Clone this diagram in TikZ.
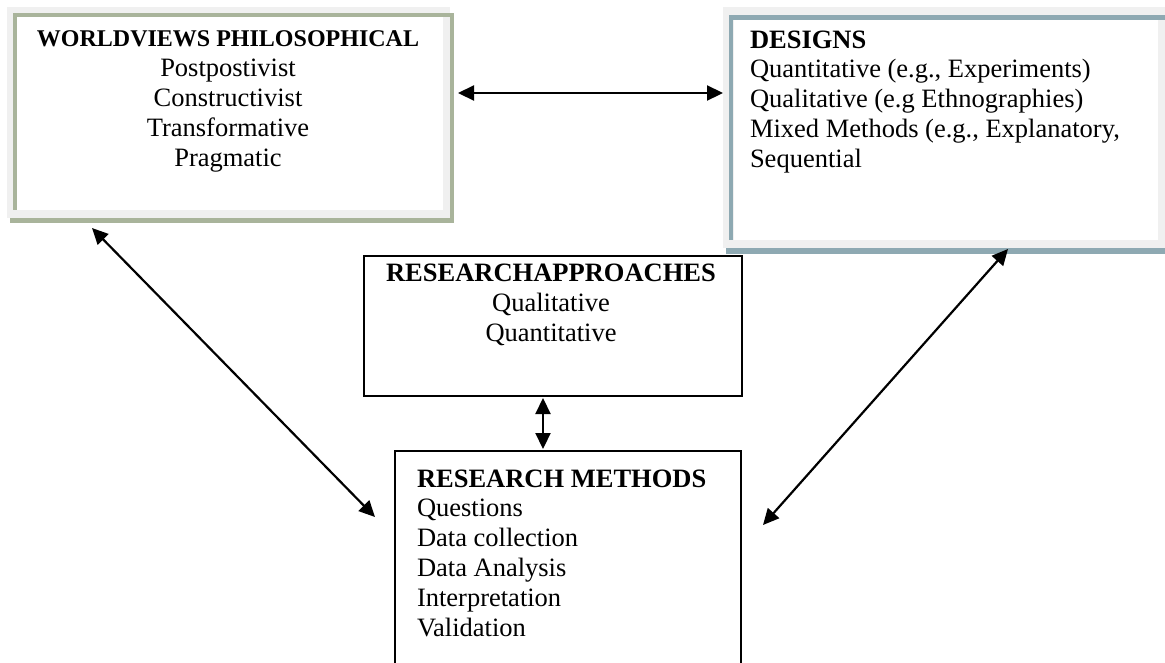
\documentclass[tikz,border=0pt]{standalone}
\usepackage{fontspec}
\setmainfont{Liberation Serif}
\usetikzlibrary{arrows.meta,calc}
\definecolor{framegrey}{HTML}{F0F0F0}
\definecolor{sagegreen}{HTML}{A9B49B}
\definecolor{steelgrey}{HTML}{8EA9B2}
\tikzset{
  boxarea/.style={inner sep=0pt, outer sep=0pt, anchor=north west},
  plainbox/.style={boxarea, draw=black, line width=2.2pt},
  txt/.style={inner sep=0pt, outer sep=0pt, font=\fontsize{26.5}{29.8}\selectfont},
  arr/.style={line width=2.2pt, {Triangle[length=16pt,width=15pt]}-{Triangle[length=16pt,width=15pt]}},
}
\begin{document}
\begin{tikzpicture}[x=1pt,y=-1pt]
\useasboundingbox (0,0) rectangle (1165,662);
\clip (0,0) rectangle (1165,662);
\fill[white] (0,0) rectangle (1165,662);

% ---- WORLDVIEWS frame (drawn shapes) ----
\fill[framegrey] (7,7) rectangle (450,218);
\fill[white] (17,17) rectangle (443,210);
\fill[sagegreen] (13,13) rectangle (450,17);
\fill[sagegreen] (13,13) rectangle (17,210);
\fill[sagegreen] (450,13) rectangle (454,223);
\fill[sagegreen] (10,218) rectangle (454,223);
\node[boxarea, minimum width=447pt, minimum height=216pt] (wv) at (7,7) {};

% ---- DESIGNS frame ----
\fill[framegrey] (723,7) rectangle (1165,248);
\fill[white] (734,20) rectangle (1158,240);
\fill[steelgrey] (729,15) rectangle (1165,20);
\fill[steelgrey] (729,15) rectangle (733,240);
\fill[steelgrey] (726,248) rectangle (1165,254);
\node[boxarea, minimum width=442pt, minimum height=247pt] (des) at (723,7) {};

% ---- plain boxes ----
\node[plainbox, minimum width=378pt, minimum height=140pt] (appr) at (364,256) {};
\node[plainbox, minimum width=346pt, minimum height=219pt] (meth) at (395,451) {};

% ---- texts ----
\node[txt, anchor=north, align=center] (wvt) at (228,31)
  {{\fontsize{24}{29.8}\selectfont\bfseries WORLDVIEWS PHILOSOPHICAL}\\Postpostivist\\Constructivist\\Transformative\\Pragmatic};
\node[txt, anchor=north west, align=left] (dest) at (750,30.5)
  {\textbf{DESIGNS}\\Quantitative (e.g., Experiments)\\Qualitative (e.g Ethnographies)\\Mixed Methods (e.g., Explanatory,\\Sequential};
\node[txt, anchor=north, align=center] (apprt) at (551,264.3)
  {\textbf{RESEARCHAPPROACHES}\\Qualitative\\Quantitative};
\node[txt, anchor=north west, align=left] (metht) at (417,469.5)
  {\textbf{RESEARCH METHODS}\\Questions\\Data collection\\Data Analysis\\Interpretation\\Validation};

% ---- connectors ----
\coordinate (hy) at (0,93);
\draw[arr] ([xshift=4pt]wv.east |- hy) -- (des.west |- hy);
\draw[arr] ($(wv.south west)+(85,5)$) -- ($(meth.north west)+(-20,66)$);
\draw[arr] ($(des.south west)+(285,-5)$) -- ($(meth.north east)+(22,74)$);
\draw[arr] ($(appr.south west)+(179,2)$) -- ($(meth.north west)+(148,-2)$);
\end{tikzpicture}
\end{document}
